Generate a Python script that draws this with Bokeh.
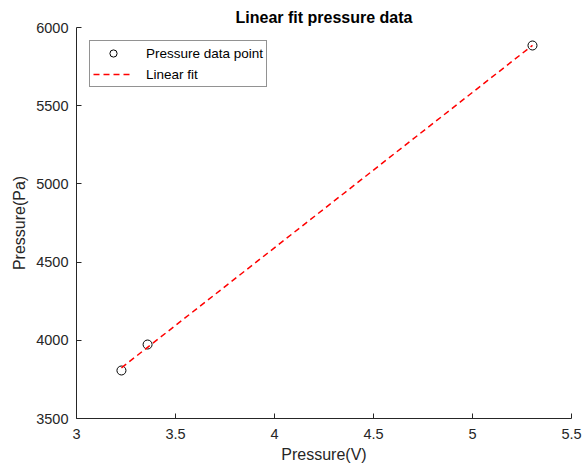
from bokeh.plotting import figure
from bokeh.models import Range1d, FixedTicker, Legend, LegendItem
from bokeh.embed import file_html
from bokeh.resources import INLINE

# Data
volts = [3.227, 3.359, 5.303]
pascal = [3807, 3973, 5885]
fit_x = [3.227, 5.303]
fit_y = [3824, 5886]
x_ticks = [3, 3.5, 4, 4.5, 5, 5.5]
y_ticks = [3500, 4000, 4500, 5000, 5500, 6000]

FONT = "Liberation Sans"
AX = "#262626"

p = figure(width=584, height=469, output_backend="svg", toolbar_location=None,
           x_range=Range1d(3, 5.5), y_range=Range1d(3500, 6000),
           min_border_left=76, min_border_right=13, min_border_top=27, min_border_bottom=51)
p.title.text = "Linear fit pressure data"
p.title.align = "center"
p.title.text_font = FONT
p.title.text_font_size = "16px"
p.title.text_font_style = "bold"
p.title.text_color = "black"
p.title.offset = 0
p.title.standoff = 3
p.outline_line_color = None
p.grid.visible = False
p.background_fill_color = "white"
p.border_fill_color = "white"

for ax, ticks in ((p.xaxis, x_ticks), (p.yaxis, y_ticks)):
    ax.ticker = FixedTicker(ticks=ticks)
    ax.major_tick_in = 5
    ax.major_tick_out = 0
    ax.minor_tick_in = 0
    ax.minor_tick_out = 0
    ax.axis_line_color = AX
    ax.major_tick_line_color = AX
    ax.major_label_text_font = FONT
    ax.major_label_text_font_size = "14.5px"
    ax.major_label_text_color = AX
    ax.axis_label_text_font = FONT
    ax.axis_label_text_font_size = "16px"
    ax.axis_label_text_font_style = "normal"
    ax.axis_label_text_color = AX

p.xaxis.axis_label = "Pressure(V)"
p.yaxis.axis_label = "Pressure(Pa)"
p.xaxis.major_label_standoff = 10
p.yaxis.major_label_standoff = 8
p.xaxis.axis_label_standoff = 4
p.yaxis.axis_label_standoff = 5

pts = p.scatter(volts, pascal, marker="circle", size=9, fill_color=None,
                line_color="black", line_width=1)
fit = p.line(fit_x, fit_y, line_color="red", line_width=1.5, line_dash="6 4")

legend = Legend(items=[LegendItem(label="Pressure data point", renderers=[pts]),
                       LegendItem(label="Linear fit", renderers=[fit])],
                location=(13, 331), label_text_font=FONT, label_text_font_size="13.5px",
                label_text_color="black", glyph_width=40, glyph_height=18,
                label_height=18, label_standoff=13, spacing=3, padding=3, margin=0,
                border_line_color=AX, border_line_width=1, background_fill_alpha=1)
p.add_layout(legend, "center")

open("out.html", "w").write(file_html(p, INLINE))
